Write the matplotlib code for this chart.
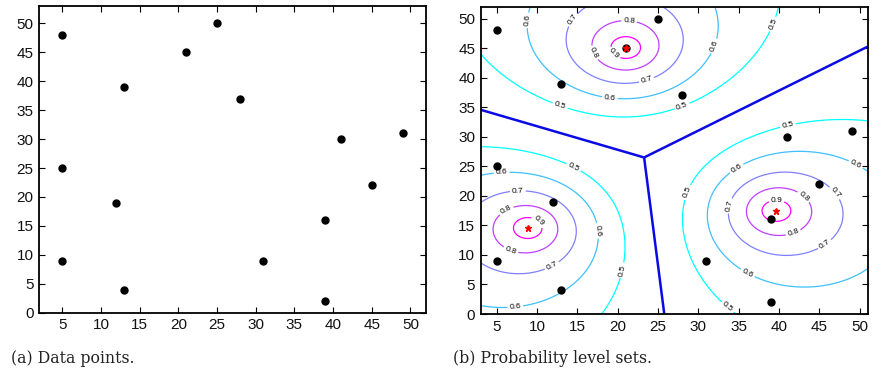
import matplotlib
matplotlib.use("Agg")
import matplotlib.pyplot as plt
import numpy as np

# data points (same in both panels)
x_points = [5, 5, 5, 12, 13, 13, 21, 25, 28, 31, 39, 39, 41, 45, 49]
y_points = [48, 25, 9, 19, 39, 4, 45, 50, 37, 9, 16, 2, 30, 22, 31]

# cluster centres
x_centres = [21.0, 8.9, 39.6]
y_centres = [45.0, 14.6, 17.5]

levels = [0.5, 0.6, 0.7, 0.8, 0.9]
fuzzifier = 3.0

# where the level labels sit in the reference (data coords)
label_spots = [
    (8.8, 49.7), (14.5, 49.7), (21.4, 49.5), (17.1, 44.2), (19.7, 44.3),
    (23.6, 39.5), (19.0, 36.5), (12.8, 35.1), (28.0, 35.1), (32.0, 45.3),
    (39.3, 49.0), (41.1, 31.8), (49.6, 25.5), (34.9, 24.3), (14.5, 24.8),
    (5.6, 23.9), (7.6, 20.8), (6.2, 17.5), (10.1, 15.6), (6.7, 10.7),
    (11.9, 8.0), (7.3, 1.0), (17.6, 14.1), (20.8, 7.3), (29.0, 20.4),
    (33.7, 1.3), (36.1, 6.9), (34.2, 18.2), (39.7, 19.1), (43.2, 20.1),
    (47.3, 20.9), (41.8, 13.6), (45.9, 11.3),
]

plt.rcParams["font.family"] = ["Liberation Sans", "DejaVu Sans"]


def style_axes(ax, xlim, ylim):
    ax.set_xlim(xlim)
    ax.set_ylim(ylim)
    ax.set_xticks(np.arange(5, 51, 5))
    ax.set_yticks(np.arange(0, 51, 5))
    ax.tick_params(direction="in", length=4, width=0.8, labelsize=11,
                   top=True, right=True, pad=4, colors="black",
                   labelcolor="#111111")
    for s in ax.spines.values():
        s.set_linewidth(1.3)


def memberships(xx, yy):
    d = np.stack([np.hypot(xx - cx, yy - cy) for cx, cy in zip(x_centres, y_centres)])
    d = np.maximum(d, 1e-9)
    p = 2.0 / (fuzzifier - 1.0)
    inv = d ** (-p)
    return inv / inv.sum(axis=0)


fig = plt.figure(figsize=(8.72, 3.77), dpi=100)
ax1 = fig.add_axes((0.0447, 0.1706, 0.4438, 0.8135))
ax2 = fig.add_axes((0.5513, 0.1670, 0.4438, 0.8152))

# (a) data points
ax1.plot(x_points, y_points, "o", color="black", markersize=5)
style_axes(ax1, (2, 52), (0, 53))

# (b) probability level sets
gx = np.linspace(3, 51, 500)
gy = np.linspace(0, 52, 500)
xx, yy = np.meshgrid(gx, gy)
u = memberships(xx, yy)
umax = u.max(axis=0)

cs = ax2.contour(xx, yy, umax, levels=levels, cmap="cool", vmin=0.5, vmax=0.9,
                 linewidths=0.9)
ax2.clabel(cs, fontsize=6, inline=True, inline_spacing=2, fmt="%.1f",
           colors="black", manual=label_spots)

# region boundaries: where two memberships are equal and both beat the third
n = len(x_centres)
for i in range(n):
    for j in range(i + 1, n):
        k = [m for m in range(n) if m not in (i, j)][0]
        diff = np.ma.masked_where(u[k] > np.maximum(u[i], u[j]), u[i] - u[j])
        ax2.contour(xx, yy, diff, levels=[0], colors="#0a0ae6", linewidths=1.8)

ax2.plot(x_points, y_points, "o", color="black", markersize=5, zorder=5)
ax2.plot(x_centres, y_centres, "*", color="red", markersize=4.5, zorder=6)
style_axes(ax2, (3, 51), (0, 52))

cap_font = ["DejaVu Serif"]
fig.text(0.013, 0.048, "(a) Data points.", fontsize=11.3, family=cap_font,
         color="#222222", va="center")
fig.text(0.520, 0.048, "(b) Probability level sets.", fontsize=11.3,
         family=cap_font, color="#222222", va="center")

fig.savefig("out.png", dpi=100)
